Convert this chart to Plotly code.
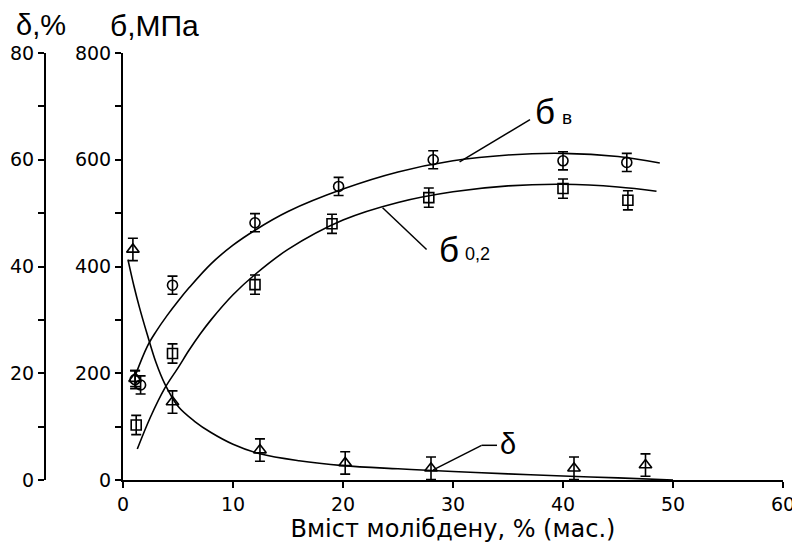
import plotly.graph_objects as go

# ---- measured points ----
mo_sb = [1.1, 1.6, 4.5, 12.0, 19.6, 28.2, 40.0, 45.8]
sb = [188, 178, 365, 482, 550, 600, 598, 595]
sb_err = [17, 17, 17, 17, 17, 17, 17, 17]

mo_s02 = [1.2, 4.5, 12.0, 19.0, 27.8, 40.0, 45.9]
s02 = [103, 237, 366, 480, 529, 546, 524]
s02_err = [18, 18, 18, 18, 18, 18, 18]

mo_d = [0.9, 1.1, 4.5, 12.45, 20.2, 28.0, 41.0, 47.5]
d = [43.2, 19.0, 14.6, 5.6, 3.2, 2.2, 2.2, 2.8]
d_err = [2.1, 1.5, 2.1, 2.1, 2.1, 2.1, 2.1, 2.1]

# ---- fitted curves ----
cx_sb = [1.1, 2.2, 3.0, 4.0, 5.0, 6.0, 8.0, 10.0, 12.0, 15.0, 20.0, 25.0, 30.0, 35.0, 40.0, 45.0, 48.8]
cy_sb = [195, 250, 278, 308, 335, 360, 405, 440, 468, 503, 545, 577, 598, 609, 612, 606, 594]

cx_s02 = [1.3, 2.5, 3.8, 5.0, 6.0, 7.0, 8.0, 10.0, 12.0, 15.0, 20.0, 25.0, 30.0, 35.0, 40.0, 45.0, 48.5]
cy_s02 = [58, 118, 172, 210, 243, 273, 300, 347, 385, 432, 487, 520, 540, 551, 554, 549, 541]

cx_d = [0.45, 1.0, 1.5, 2.2, 3.0, 3.8, 5.0, 6.5, 8.0, 10.0, 12.45, 16.0, 20.0, 25.0, 30.0, 35.0, 40.0, 45.0, 50.0]
cy_d = [41.3, 36.3, 32.3, 27.3, 22.0, 18.0, 13.8, 11.0, 8.9, 6.7, 4.9, 3.6, 2.7, 2.1, 1.6, 1.15, 0.75, 0.4, 0.0]

x_ticks = [0, 10, 20, 30, 40, 50, 60]
y_ticks = [0, 200, 400, 600, 800]
y2_ticks = [0, 20, 40, 60, 80]

BLACK = "black"
LW = 1.6

fig = go.Figure()

for cx, cy, ax in [(cx_sb, cy_sb, "y"), (cx_s02, cy_s02, "y"), (cx_d, cy_d, "y2")]:
    fig.add_trace(go.Scatter(x=cx, y=cy, yaxis=ax, mode="lines",
                             line=dict(color=BLACK, width=LW, shape="spline", smoothing=1.0),
                             showlegend=False))

fig.add_trace(go.Scatter(
    x=mo_sb, y=sb, mode="markers",
    marker=dict(symbol="circle-open", size=10, color=BLACK, line=dict(width=1.6)),
    error_y=dict(type="data", array=sb_err, color=BLACK, thickness=1.6, width=5),
    showlegend=False))
fig.add_trace(go.Scatter(
    x=mo_s02, y=s02, mode="markers",
    marker=dict(symbol="square-open", size=10, color=BLACK, line=dict(width=1.6)),
    error_y=dict(type="data", array=s02_err, color=BLACK, thickness=1.6, width=5),
    showlegend=False))
fig.add_trace(go.Scatter(
    x=mo_d, y=d, yaxis="y2", mode="markers",
    marker=dict(symbol="triangle-up-open", size=11, color=BLACK, line=dict(width=1.6)),
    error_y=dict(type="data", array=d_err, color=BLACK, thickness=1.6, width=5),
    showlegend=False))

# leader lines
line_style = dict(color=BLACK, width=1.5)
fig.add_shape(type="line", xref="x", yref="y", x0=30.6, y0=596, x1=37.0, y1=675, line=line_style)
fig.add_shape(type="line", xref="x", yref="y", x0=23.6, y0=510, x1=27.6, y1=432, line=line_style)
fig.add_shape(type="line", xref="x", yref="y", x0=28.2, y0=19, x1=32.6, y1=65, line=line_style)
fig.add_shape(type="line", xref="x", yref="y", x0=32.6, y0=65, x1=34.0, y1=65, line=line_style)

SANS = "Liberation Sans"
TICKS = "DejaVu Sans"

def ann(x, y, text, size, xref="x", yref="y", xanchor="left", yanchor="middle"):
    fig.add_annotation(x=x, y=y, xref=xref, yref=yref, text=text, showarrow=False,
                       xanchor=xanchor, yanchor=yanchor, borderpad=0,
                       font=dict(family=SANS, size=size, color=BLACK))

ann(37.4, 690, "б", 35)
ann(39.8, 680, "в", 19)
ann(28.6, 432, "б", 35)
ann(31.0, 424, "0,2", 18)
ann(34.2, 68, "δ", 29)

# top units labels (paper coords; figure top edge = 472/427)
ann((41 - 40) / 743, 472 / 427, "δ,%", 29, xref="paper", yref="paper", xanchor="center", yanchor="top")
ann((154 - 40) / 743, 472 / 427, "б,МПа", 30, xref="paper", yref="paper", xanchor="center", yanchor="top")

axis_common = dict(showline=True, linecolor=BLACK, linewidth=2, ticks="outside",
                   ticklen=6, tickwidth=2, tickcolor=BLACK, showgrid=False, zeroline=False,
                   automargin=False,
                   tickfont=dict(family=TICKS, size=19, color=BLACK))

# page body has an 8 px margin: plot area placed so it lands on the reference pixels
fig.update_layout(
    width=800, height=548,
    margin=dict(l=32, r=25, t=45, b=76, autoexpand=False),
    paper_bgcolor="white", plot_bgcolor="white",
    xaxis=dict(domain=[83 / 743, 1], range=[0, 60], tickvals=x_ticks,
               title=dict(text="Вміст молібдену, % (мас.)", standoff=0,
                          font=dict(family=TICKS, size=24, color=BLACK)),
               **axis_common),
    yaxis=dict(range=[0, 800], tickvals=y_ticks, anchor="x",
               minor=dict(dtick=100, ticks="outside", ticklen=6, tickwidth=2, tickcolor=BLACK, showgrid=False),
               **axis_common),
    yaxis2=dict(range=[0, 80], tickvals=y2_ticks, overlaying="y", anchor="free",
                position=5 / 743, side="left",
                minor=dict(dtick=10, ticks="outside", ticklen=6, tickwidth=2, tickcolor=BLACK, showgrid=False),
                **axis_common),
)

fig.write_html("out.html")
